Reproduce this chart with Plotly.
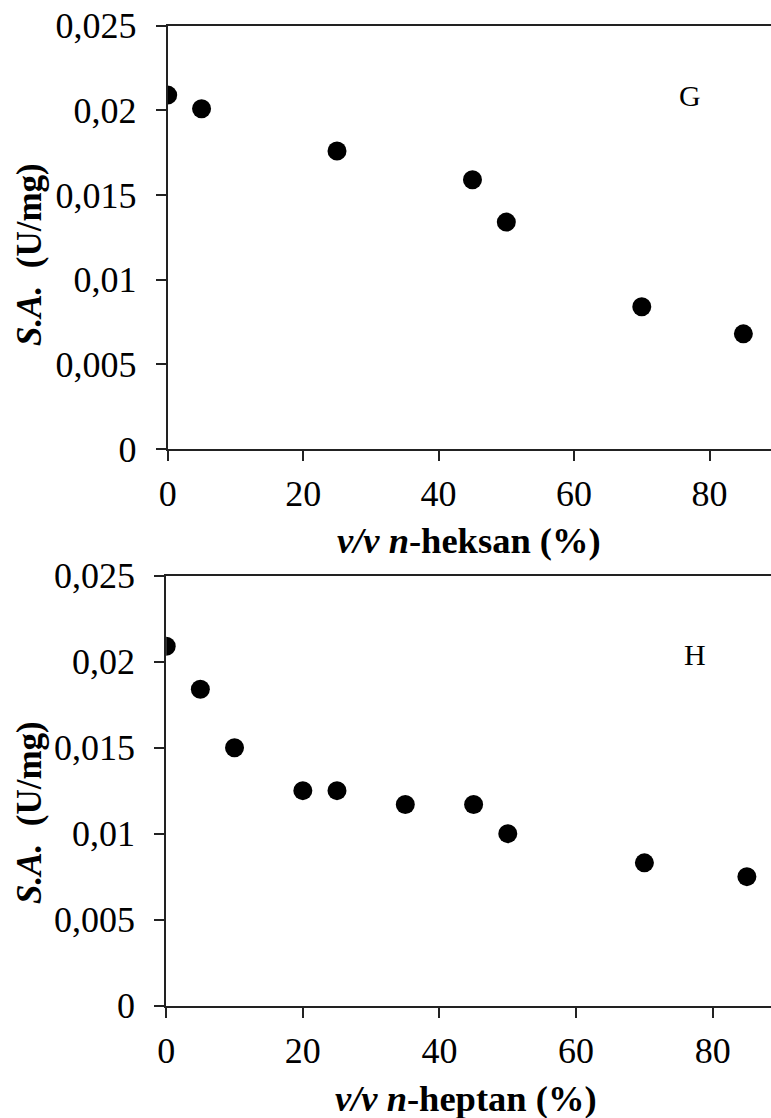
import plotly.graph_objects as go

# Panel G: n-hexane
x_heksan = [0, 5, 25, 45, 50, 70, 85]
sa_heksan = [0.0209, 0.0201, 0.0176, 0.0159, 0.0134, 0.0084, 0.0068]

# Panel H: n-heptane
x_heptan = [0, 5, 10, 20, 25, 35, 45, 50, 70, 85]
sa_heptan = [0.0209, 0.0184, 0.0150, 0.0125, 0.0125, 0.0117, 0.0117, 0.0100, 0.0083, 0.0075]

y_tick_vals = [0, 0.005, 0.01, 0.015, 0.02, 0.025]
y_tick_labels = ["0", "0,005", "0,01", "0,015", "0,02", "0,025"]
x_tick_vals = [0, 20, 40, 60, 80]
x_tick_labels = ["0", "20", "40", "60", "80"]

W, H = 771, 1118
FONT = "Liberation Serif"
LINE = "#222222"

def px_x(p):
    return p / W

def px_y(p):
    return 1 - p / H

fig = go.Figure()
fig.add_trace(go.Scatter(x=x_heksan, y=sa_heksan, mode="markers",
                         marker=dict(size=19, color="black"),
                         xaxis="x", yaxis="y", showlegend=False, cliponaxis=True))
fig.add_trace(go.Scatter(x=x_heptan, y=sa_heptan, mode="markers",
                         marker=dict(size=19, color="black"),
                         xaxis="x2", yaxis="y2", showlegend=False, cliponaxis=True))

common_x = dict(showgrid=False, zeroline=False, showline=True, linecolor=LINE,
                linewidth=2, mirror=True, ticks="outside", ticklen=10, tickwidth=2,
                tickcolor=LINE, tickvals=x_tick_vals, ticktext=x_tick_labels,
                automargin=False, ticklabelstandoff=2, ticklabeloverflow="allow",
                tickfont=dict(family=FONT, size=36, color="black"))
common_y = dict(showgrid=False, zeroline=False, showline=True, linecolor=LINE,
                linewidth=2, ticks="outside", ticklen=10, tickwidth=2,
                tickcolor=LINE, tickvals=y_tick_vals, ticktext=y_tick_labels,
                range=[0, 0.025], automargin=False, ticklabelstandoff=12,
                ticklabeloverflow="allow",
                tickfont=dict(family=FONT, size=36, color="black"))

fig.update_layout(
    template="none",
    width=W, height=H, autosize=False,
    margin=dict(l=0, r=0, t=0, b=0, pad=0),
    paper_bgcolor="white", plot_bgcolor="white",
    xaxis=dict(domain=[px_x(167.7), 1], range=[0, 89.08], anchor="y", **common_x),
    yaxis=dict(domain=[px_y(449), px_y(25.7)], anchor="x", **common_y),
    xaxis2=dict(domain=[px_x(166.2), 1], range=[0, 88.53], anchor="y2", **common_x),
    yaxis2=dict(domain=[px_y(1005.6), px_y(575.7)], anchor="x2", **common_y),
    showlegend=False,
)

title_font = dict(family=FONT, size=36.5, color="black")
ytitle_font = dict(family=FONT, size=35, color="black")
annotations = [
    dict(text="<b><i>v/v n</i>-heksan (%)</b>", x=px_x(469), y=px_y(540),
         xref="paper", yref="paper", showarrow=False, font=title_font,
         xanchor="center", yanchor="middle"),
    dict(text="<b><i>v/v n</i>-heptan (%)</b>", x=px_x(466), y=px_y(1098),
         xref="paper", yref="paper", showarrow=False, font=title_font,
         xanchor="center", yanchor="middle"),
    dict(text="<b><i>S.A.</i>  (U/mg)</b>", x=px_x(29), y=px_y(255),
         xref="paper", yref="paper", showarrow=False, font=ytitle_font,
         textangle=-90, xanchor="center", yanchor="middle"),
    dict(text="<b><i>S.A.</i>  (U/mg)</b>", x=px_x(29), y=px_y(813),
         xref="paper", yref="paper", showarrow=False, font=ytitle_font,
         textangle=-90, xanchor="center", yanchor="middle"),
    dict(text="G", x=77.1, y=0.0209, xref="x", yref="y", showarrow=False,
         font=dict(family=FONT, size=30, color="black")),
    dict(text="H", x=77.4, y=0.0204, xref="x2", yref="y2", showarrow=False,
         font=dict(family=FONT, size=30, color="black")),
]
fig.update_layout(annotations=annotations)

fig.write_html("out.html",
               config={"displayModeBar": False, "staticPlot": True},
               post_script="document.body.style.margin='0';document.body.style.overflow='hidden';")
